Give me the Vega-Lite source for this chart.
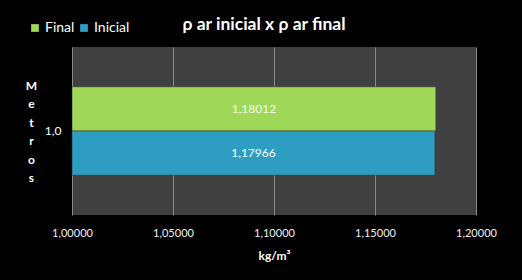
{
  "$schema": "https://vega.github.io/schema/vega-lite/v6.json",
  "autosize": {"type": "none"},
  "width": 404,
  "height": 168,
  "padding": {"left": 72, "top": 47, "right": 46, "bottom": 65},
  "background": "#000000",
  "title": {
    "text": "ρ ar inicial x ρ ar final",
    "anchor": "middle",
    "frame": "group",
    "dx": -10,
    "dy": 28,
    "offset": 16,
    "font": "Lato",
    "fontSize": 17.5,
    "fontWeight": "bold",
    "color": "#ffffff"
  },
  "config": {
    "view": {"fill": "#404040", "stroke": null},
    "font": "Lato",
    "locale": {"number": {"decimal": ",", "thousands": ".", "grouping": [3], "currency": ["", ""]}}
  },
  "data": {
    "values": [
      {"metros": "1,0", "serie": "Final", "valor": 1.18012},
      {"metros": "1,0", "serie": "Inicial", "valor": 1.17966}
    ]
  },
  "transform": [
    {"calculate": "(1 + datum.valor) / 2", "as": "meio"}
  ],
  "encoding": {
    "y": {
      "field": "metros",
      "type": "nominal",
      "scale": {"paddingInner": 0, "paddingOuter": 0.45},
      "axis": {
        "title": ["M", "e", "t", "r", "o", "s"],
        "titleAngle": 0,
        "titleX": -41,
        "titleY": 33,
        "titleAlign": "center",
        "titleBaseline": "top",
        "titleLineHeight": 18.5,
        "titleFontSize": 12,
        "titleFontWeight": "bold",
        "titleColor": "#ffffff",
        "labelColor": "#ffffff",
        "labelFontSize": 12,
        "labelPadding": 11,
        "ticks": false,
        "domain": false
      }
    },
    "yOffset": {"field": "serie", "type": "nominal", "sort": ["Final", "Inicial"], "scale": {"paddingInner": 0}}
  },
  "layer": [
    {
      "mark": {"type": "bar", "stroke": "#2a2a2a", "strokeWidth": 0.5},
      "encoding": {
        "x": {
          "field": "valor",
          "type": "quantitative",
          "scale": {"domain": [1.0, 1.2], "zero": false, "nice": false},
          "axis": {
            "values": [1.0, 1.05, 1.1, 1.15, 1.2],
            "format": ".5f",
            "labelFlush": false,
            "labelOverlap": false,
            "title": "kg/m³",
            "titleColor": "#ffffff",
            "titleFontSize": 12,
            "titleFontWeight": "bold",
            "titlePadding": 12,
            "labelColor": "#f0f0f0",
            "labelFontSize": 11,
            "labelPadding": 12,
            "ticks": false,
            "domain": false,
            "grid": true,
            "gridColor": "#8a8a8a",
            "gridWidth": 1
          }
        },
        "x2": {"datum": 1.0},
        "color": {
          "field": "serie",
          "type": "nominal",
          "scale": {"domain": ["Final", "Inicial"], "range": ["#9fd859", "#2e9dc2"]},
          "legend": {
            "title": null,
            "orient": "none",
            "legendX": -44,
            "legendY": -26,
            "direction": "horizontal",
            "symbolType": "square",
            "symbolSize": 60,
            "symbolStrokeWidth": 0,
            "labelColor": "#ffffff",
            "labelFontSize": 14,
            "labelOffset": 3,
            "columnPadding": 2
          }
        }
      }
    },
    {
      "mark": {"type": "text", "fontSize": 12, "align": "center", "baseline": "middle"},
      "encoding": {
        "x": {"field": "meio", "type": "quantitative"},
        "text": {"field": "valor", "type": "quantitative", "format": ".5f"},
        "color": {
          "field": "serie",
          "type": "nominal",
          "scale": {"domain": ["Final", "Inicial"], "range": ["#f4fae8", "#ffffff"]},
          "legend": null
        }
      }
    }
  ],
  "resolve": {"scale": {"color": "independent"}}
}
